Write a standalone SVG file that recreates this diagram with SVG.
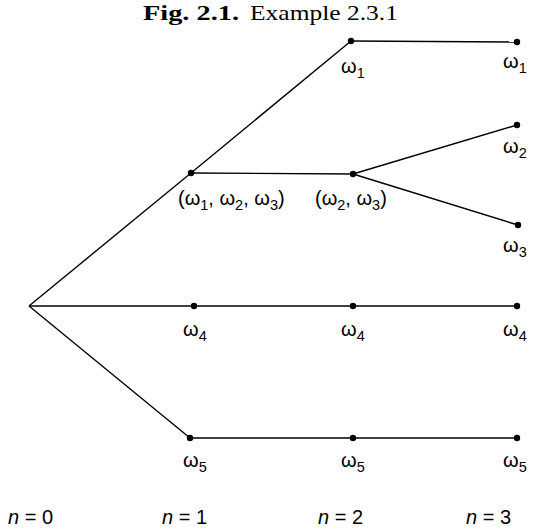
<svg xmlns="http://www.w3.org/2000/svg" width="542" height="531" viewBox="0 0 542 531">
<style>
.e{stroke:#000;stroke-width:1.4;fill:none}
.d{fill:#000}
.l{font-family:"Liberation Sans",Arial,sans-serif;font-size:20px;fill:#000}
.s{font-size:14.5px}
.t{font-family:"Liberation Serif","Times New Roman",serif;font-size:21px;fill:#000}
</style>
<rect width="542" height="531" fill="#fff"/>
<text class="t" x="143" y="20" font-weight="bold" textLength="96" lengthAdjust="spacingAndGlyphs">Fig. 2.1.</text>
<text class="t" x="250" y="20" textLength="148" lengthAdjust="spacingAndGlyphs">Example 2.3.1</text>
<g id="connectors">
<line class="e" x1="29" y1="306" x2="191" y2="173"/>
<line class="e" x1="29" y1="306" x2="194" y2="306"/>
<line class="e" x1="29" y1="306" x2="190" y2="438"/>
<line class="e" x1="191" y1="173" x2="351" y2="41"/>
<line class="e" x1="191" y1="173" x2="353" y2="174"/>
<line class="e" x1="194" y1="306" x2="353" y2="306"/>
<line class="e" x1="190" y1="438" x2="353" y2="438"/>
<line class="e" x1="351" y1="41" x2="517" y2="42"/>
<line class="e" x1="353" y1="174" x2="517" y2="125"/>
<line class="e" x1="353" y1="174" x2="518" y2="225"/>
<line class="e" x1="353" y1="306" x2="517" y2="306"/>
<line class="e" x1="353" y1="438" x2="517" y2="438"/>
</g>
<g id="n1a"><circle class="d" cx="191" cy="173" r="3.2"/><text class="l" x="178" y="205">(ω<tspan class="s" dy="5">1</tspan><tspan dy="-5">, ω</tspan><tspan class="s" dy="5">2</tspan><tspan dy="-5">, ω</tspan><tspan class="s" dy="5">3</tspan><tspan dy="-5">)</tspan></text></g>
<g id="n1b"><circle class="d" cx="194" cy="306" r="3.2"/><text class="l" x="183" y="336">ω<tspan class="s" dy="5">4</tspan></text></g>
<g id="n1c"><circle class="d" cx="190" cy="438" r="3.2"/><text class="l" x="183" y="467">ω<tspan class="s" dy="5">5</tspan></text></g>
<g id="n2a"><circle class="d" cx="351" cy="41" r="3.2"/><text class="l" x="341" y="73">ω<tspan class="s" dy="5">1</tspan></text></g>
<g id="n2b"><circle class="d" cx="353" cy="174" r="3.2"/><text class="l" x="315" y="205">(ω<tspan class="s" dy="5">2</tspan><tspan dy="-5">, ω</tspan><tspan class="s" dy="5">3</tspan><tspan dy="-5">)</tspan></text></g>
<g id="n2c"><circle class="d" cx="353" cy="306" r="3.2"/><text class="l" x="341" y="336">ω<tspan class="s" dy="5">4</tspan></text></g>
<g id="n2d"><circle class="d" cx="353" cy="438" r="3.2"/><text class="l" x="341" y="467">ω<tspan class="s" dy="5">5</tspan></text></g>
<g id="n3a"><circle class="d" cx="517" cy="42" r="3.2"/><text class="l" x="503" y="68">ω<tspan class="s" dy="5">1</tspan></text></g>
<g id="n3b"><circle class="d" cx="517" cy="125" r="3.2"/><text class="l" x="503" y="153">ω<tspan class="s" dy="5">2</tspan></text></g>
<g id="n3c"><circle class="d" cx="518" cy="225" r="3.2"/><text class="l" x="503" y="252">ω<tspan class="s" dy="5">3</tspan></text></g>
<g id="n3d"><circle class="d" cx="517" cy="306" r="3.2"/><text class="l" x="503" y="336">ω<tspan class="s" dy="5">4</tspan></text></g>
<g id="n3e"><circle class="d" cx="517" cy="438" r="3.2"/><text class="l" x="503" y="467">ω<tspan class="s" dy="5">5</tspan></text></g>
<g id="axis" class="l">
<text x="8" y="524"><tspan font-style="italic">n</tspan> = 0</text>
<text x="162" y="524"><tspan font-style="italic">n</tspan> = 1</text>
<text x="318" y="524"><tspan font-style="italic">n</tspan> = 2</text>
<text x="466" y="524"><tspan font-style="italic">n</tspan> = 3</text>
</g>
</svg>
